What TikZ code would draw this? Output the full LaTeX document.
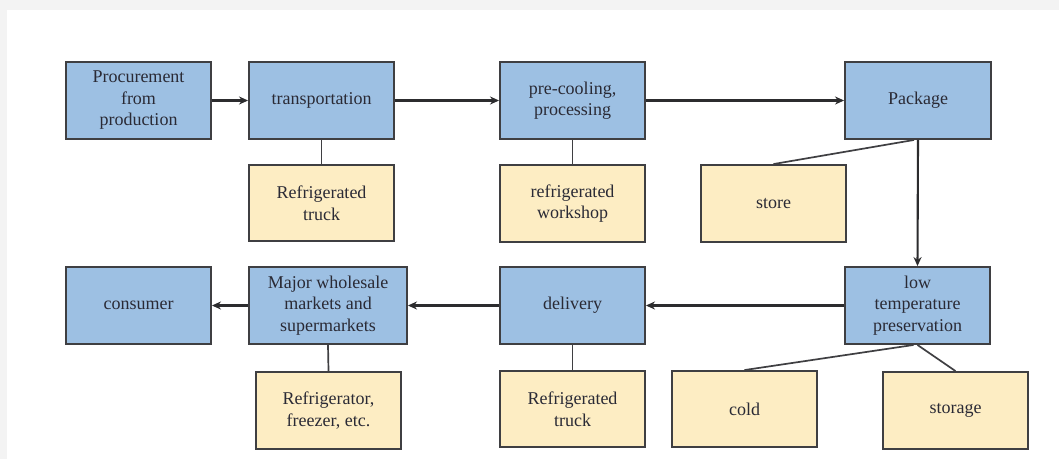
\documentclass[tikz,border=0pt]{standalone}
\usepackage{fontspec}
\setmainfont{Liberation Serif}
\usetikzlibrary{arrows.meta,calc}
\definecolor{bluefill}{HTML}{9DC0E3}
\definecolor{yellowfill}{HTML}{FDEDC3}
\definecolor{edgecol}{HTML}{3F3F42}
\definecolor{txtcol}{HTML}{2A2A35}
\definecolor{bggray}{HTML}{F3F3F3}
\tikzset{
  box/.style={draw=edgecol, line width=1.9pt, align=center, text=txtcol,
    font=\fontsize{18}{21.5}\selectfont, inner sep=2pt,
    minimum width=145pt, minimum height=77pt},
  bluebox/.style={box, fill=bluefill},
  yellowbox/.style={box, fill=yellowfill},
  flow/.style={draw=edgecol!70!black, line width=2.1pt, -{Stealth[length=9pt,width=8pt]}},
  link/.style={draw=edgecol, line width=1.7pt},
}
\begin{document}
\begin{tikzpicture}[x=1pt,y=-1pt]
\fill[bggray] (0,0) rectangle (1059,459);
\fill[white] (7,10) rectangle (1059,459);
\useasboundingbox (0,0) rectangle (1059,459);
% top row
\node[bluebox] (proc) at (138.5,100.5) {Procurement\\from\\production};
\node[bluebox] (trans) at (321.5,100.5) {transportation};
\node[bluebox] (pre) at (572.5,100.5) {pre-cooling,\\processing};
\node[bluebox, minimum width=146pt] (pack) at (918,100.5) {Package};
\node[yellowbox, minimum height=76pt] (truckA) at (321.5,203) {Refrigerated\\truck};
\node[yellowbox] (workshop) at (572.5,203.5) {refrigerated\\workshop};
\node[yellowbox] (store) at (773.5,203.5) {store};
% bottom row
\node[bluebox] (low) at (917.5,305.5) {low\\temperature\\preservation};
\node[bluebox] (deliv) at (572.5,305.5) {delivery};
\node[bluebox, minimum width=158pt] (major) at (328,305.5) {Major wholesale\\markets and\\supermarkets};
\node[bluebox] (cons) at (138.5,305.5) {consumer};
\node[yellowbox] (fridge) at (328.5,410.5) {Refrigerator,\\freezer, etc.};
\node[yellowbox, minimum height=76pt] (truckB) at (572.5,409) {Refrigerated\\truck};
\node[yellowbox, minimum height=76pt] (cold) at (744.5,409) {cold};
\node[yellowbox] (storage) at (955.5,410.5) {storage};
% flow arrows
\draw[flow] (proc.east) -- (trans.west);
\draw[flow] (trans.east) -- (pre.west);
\draw[flow] (pre.east) -- (pack.west);
\draw[flow] (pack.south) -- (low.north);
\draw[flow] (low.west) -- (deliv.east);
\draw[flow] (deliv.west) -- (major.east);
\draw[flow] (major.west) -- (cons.east);
% links
\draw[link] (trans.south) -- (truckA.north);
\draw[link] (pre.south) -- (workshop.north);
\draw[link] ($(pack.south)+(-4,0)$) -- (store.north);
\draw[link] (major.south) -- (fridge.north);
\draw[link] (deliv.south) -- (truckB.north);
\draw[link] ($(low.south)+(-4,0)$) -- (cold.north);
\draw[link] (low.south) -- (storage.north);
\end{tikzpicture}
\end{document}
